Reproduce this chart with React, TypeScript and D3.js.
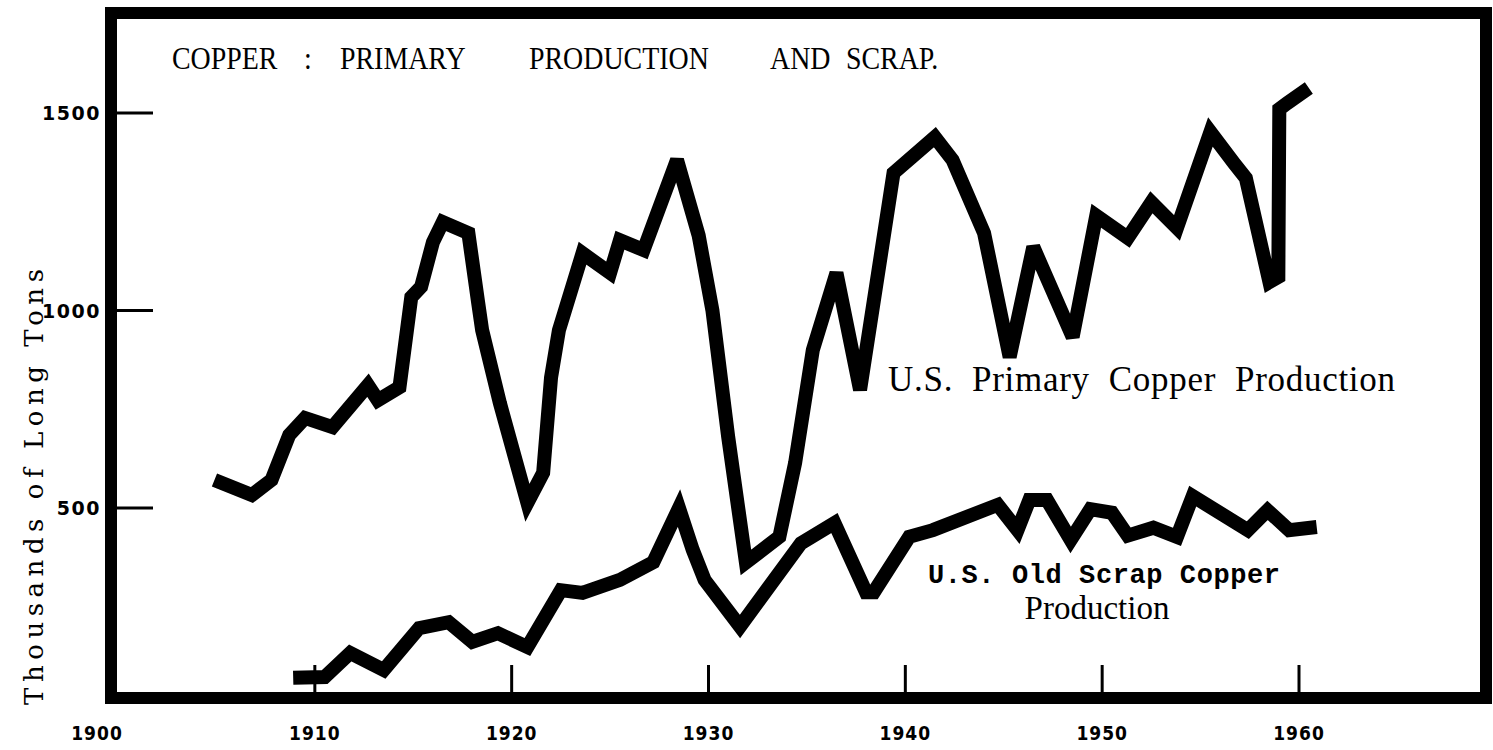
import React from "react";
import * as d3 from "d3";

// ---- Data ----
const primaryYears = [
  1904.9, 1906.8, 1907.8, 1908.7, 1909.5, 1910.9, 1912.7, 1913.2, 1914.3, 1914.9,
  1915.4, 1916.0, 1916.5, 1917.8, 1918.3, 1918.5, 1919.4, 1920.8, 1921.6, 1922.0,
  1922.4, 1923.6, 1925.0, 1925.5, 1926.7, 1928.4, 1929.5, 1930.2, 1931.0, 1931.9,
  1933.6, 1934.4, 1935.3, 1936.5, 1937.7, 1939.4, 1941.5, 1942.4, 1944.0, 1945.3,
  1946.5, 1948.5, 1949.7, 1951.3, 1952.5, 1953.8, 1955.5, 1956.7, 1957.3, 1958.5,
  1958.95, 1959.0, 1959.4, 1960.5,
];
const primaryValues = [
  571, 533, 571, 685, 728, 705, 811, 773, 806, 1034,
  1060, 1173, 1224, 1196, 1019, 950, 766, 513, 589, 830,
  950, 1145, 1095, 1178, 1153, 1381, 1190, 1000, 680, 362,
  427, 614, 900, 1095, 799, 1348, 1439, 1381, 1196, 882,
  1161, 933, 1240, 1184, 1274, 1209, 1452, 1373, 1335, 1072,
  1085, 1510, 1525, 1563,
];

const scrapYears = [
  1908.9, 1910.5, 1911.8, 1913.5, 1915.3, 1916.8, 1918.0, 1919.3, 1920.8, 1922.5,
  1923.6, 1925.5, 1927.2, 1928.5, 1929.2, 1929.8, 1931.6, 1934.7, 1936.4, 1938.0,
  1938.4, 1940.2, 1941.4, 1944.7, 1945.7, 1946.3, 1947.2, 1948.4, 1949.4, 1950.5,
  1951.3, 1952.6, 1953.8, 1954.6, 1957.4, 1958.4, 1959.5, 1960.9,
];
const scrapValues = [
  70, 72, 133, 90, 196, 211, 161, 183, 148, 292,
  285, 318, 363, 500, 394, 318, 200, 411, 462, 287,
  287, 427, 444, 508, 444, 520, 520, 419, 497, 488,
  430, 450, 427, 530, 444, 494, 444, 452,
];

const xTickYears = [1900, 1910, 1920, 1930, 1940, 1950, 1960];
const xTickLabels = ["1900", "1910", "1920", "1930", "1940", "1950", "1960"];
const yTickValues = [500, 1000, 1500];
const yTickLabels = ["500", "1000", "1500"];

const titleWords = ["COPPER", ":", "PRIMARY", "PRODUCTION", "AND", "SCRAP."];
const titleWordX = [172, 304, 340, 529, 770, 846];
const yAxisTitle = "Thousands of Long Tons";
const primaryLabel = "U.S.  Primary  Copper  Production";
const scrapLabelLine1 = "U.S. Old Scrap Copper";
const scrapLabelLine2 = "Production";

export default function App() {
  const W = 1493;
  const H = 750;
  const x = d3.scaleLinear().domain([1900, 1960]).range([118, 1299]);
  const y = d3.scaleLinear().domain([0, 1500]).range([705.5, 113]);

  const line = d3
    .line<[number, number]>()
    .x((d) => x(d[0]))
    .y((d) => y(d[1]));

  const primaryPts = primaryYears.map((yr, i) => [yr, primaryValues[i]] as [number, number]);
  const scrapPts = scrapYears.map((yr, i) => [yr, scrapValues[i]] as [number, number]);

  const frame = { x0: 111, y0: 13, x1: 1486, y1: 698 };

  return (
    <svg
      width={W}
      height={H}
      viewBox={`0 0 ${W} ${H}`}
      style={{ position: "absolute", left: 0, top: 0, background: "#fff" }}
    >
      <rect x={0} y={0} width={W} height={H} fill="#fff" />
      {/* frame */}
      <rect
        x={frame.x0}
        y={frame.y0}
        width={frame.x1 - frame.x0}
        height={frame.y1 - frame.y0}
        fill="none"
        stroke="#000"
        strokeWidth={12}
      />
      {/* y ticks */}
      {yTickValues.map((v, i) => (
        <g key={"yt" + v}>
          <line x1={frame.x0} x2={153} y1={y(v)} y2={y(v)} stroke="#000" strokeWidth={3} />
          <text
            x={101}
            y={y(v)}
            textAnchor="end"
            dominantBaseline="central"
            fontFamily="'DejaVu Sans', sans-serif"
            fontWeight="bold"
            fontSize={19}
            letterSpacing={1.5}
            fill="#000"
          >
            {yTickLabels[i]}
          </text>
        </g>
      ))}
      {/* x ticks */}
      {xTickYears.map((yr, i) => (
        <g key={"xt" + yr}>
          {yr > 1900 && (
            <line x1={x(yr)} x2={x(yr)} y1={frame.y1} y2={frame.y1 - 33} stroke="#000" strokeWidth={3} />
          )}
          <text
            x={yr === 1900 ? x(yr) - 21 : x(yr)}
            y={740}
            textAnchor="middle"
            fontFamily="'DejaVu Sans Condensed', 'DejaVu Sans', sans-serif"
            fontWeight="bold"
            fontSize={19}
            letterSpacing={1}
            fill="#000"
          >
            {xTickLabels[i]}
          </text>
        </g>
      ))}
      {/* title */}
      {titleWords.map((w, i) => (
        <text
          key={"tw" + i}
          transform={`translate(${titleWordX[i]}, 69) scale(0.9, 1)`}
          fontFamily="'Liberation Serif', serif"
          fontSize={31}
          fill="#000"
        >
          {w}
        </text>
      ))}
      {/* y axis title */}
      <text
        transform={`translate(43, 487) rotate(-90)`}
        textAnchor="middle"
        fontFamily="'DejaVu Serif', serif"
        fontSize={26}
        textLength={436}
        lengthAdjust="spacing"
        fill="#000"
      >
        {yAxisTitle}
      </text>
      {/* series */}
      <path
        d={line(primaryPts) || ""}
        fill="none"
        stroke="#000"
        strokeWidth={14}
        strokeLinejoin="miter"
        strokeMiterlimit={3}
        strokeLinecap="butt"
      />
      <path
        d={line(scrapPts) || ""}
        fill="none"
        stroke="#000"
        strokeWidth={14}
        strokeLinejoin="miter"
        strokeMiterlimit={3}
        strokeLinecap="butt"
      />
      {/* labels */}
      <text
        x={888}
        y={391}
        fontFamily="'Liberation Serif', serif"
        fontSize={35}
        textLength={507}
        lengthAdjust="spacing"
        fill="#000"
        style={{ whiteSpace: "pre" }}
      >
        {primaryLabel}
      </text>
      <text
        x={928}
        y={583}
        fontFamily="'Liberation Mono', monospace"
        fontWeight="bold"
        fontSize={27}
        textLength={352}
        lengthAdjust="spacing"
        fill="#000"
      >
        {scrapLabelLine1}
      </text>
      <text
        x={1097}
        y={619}
        textAnchor="middle"
        fontFamily="'Liberation Serif', serif"
        fontSize={33}
        fill="#000"
      >
        {scrapLabelLine2}
      </text>
    </svg>
  );
}
